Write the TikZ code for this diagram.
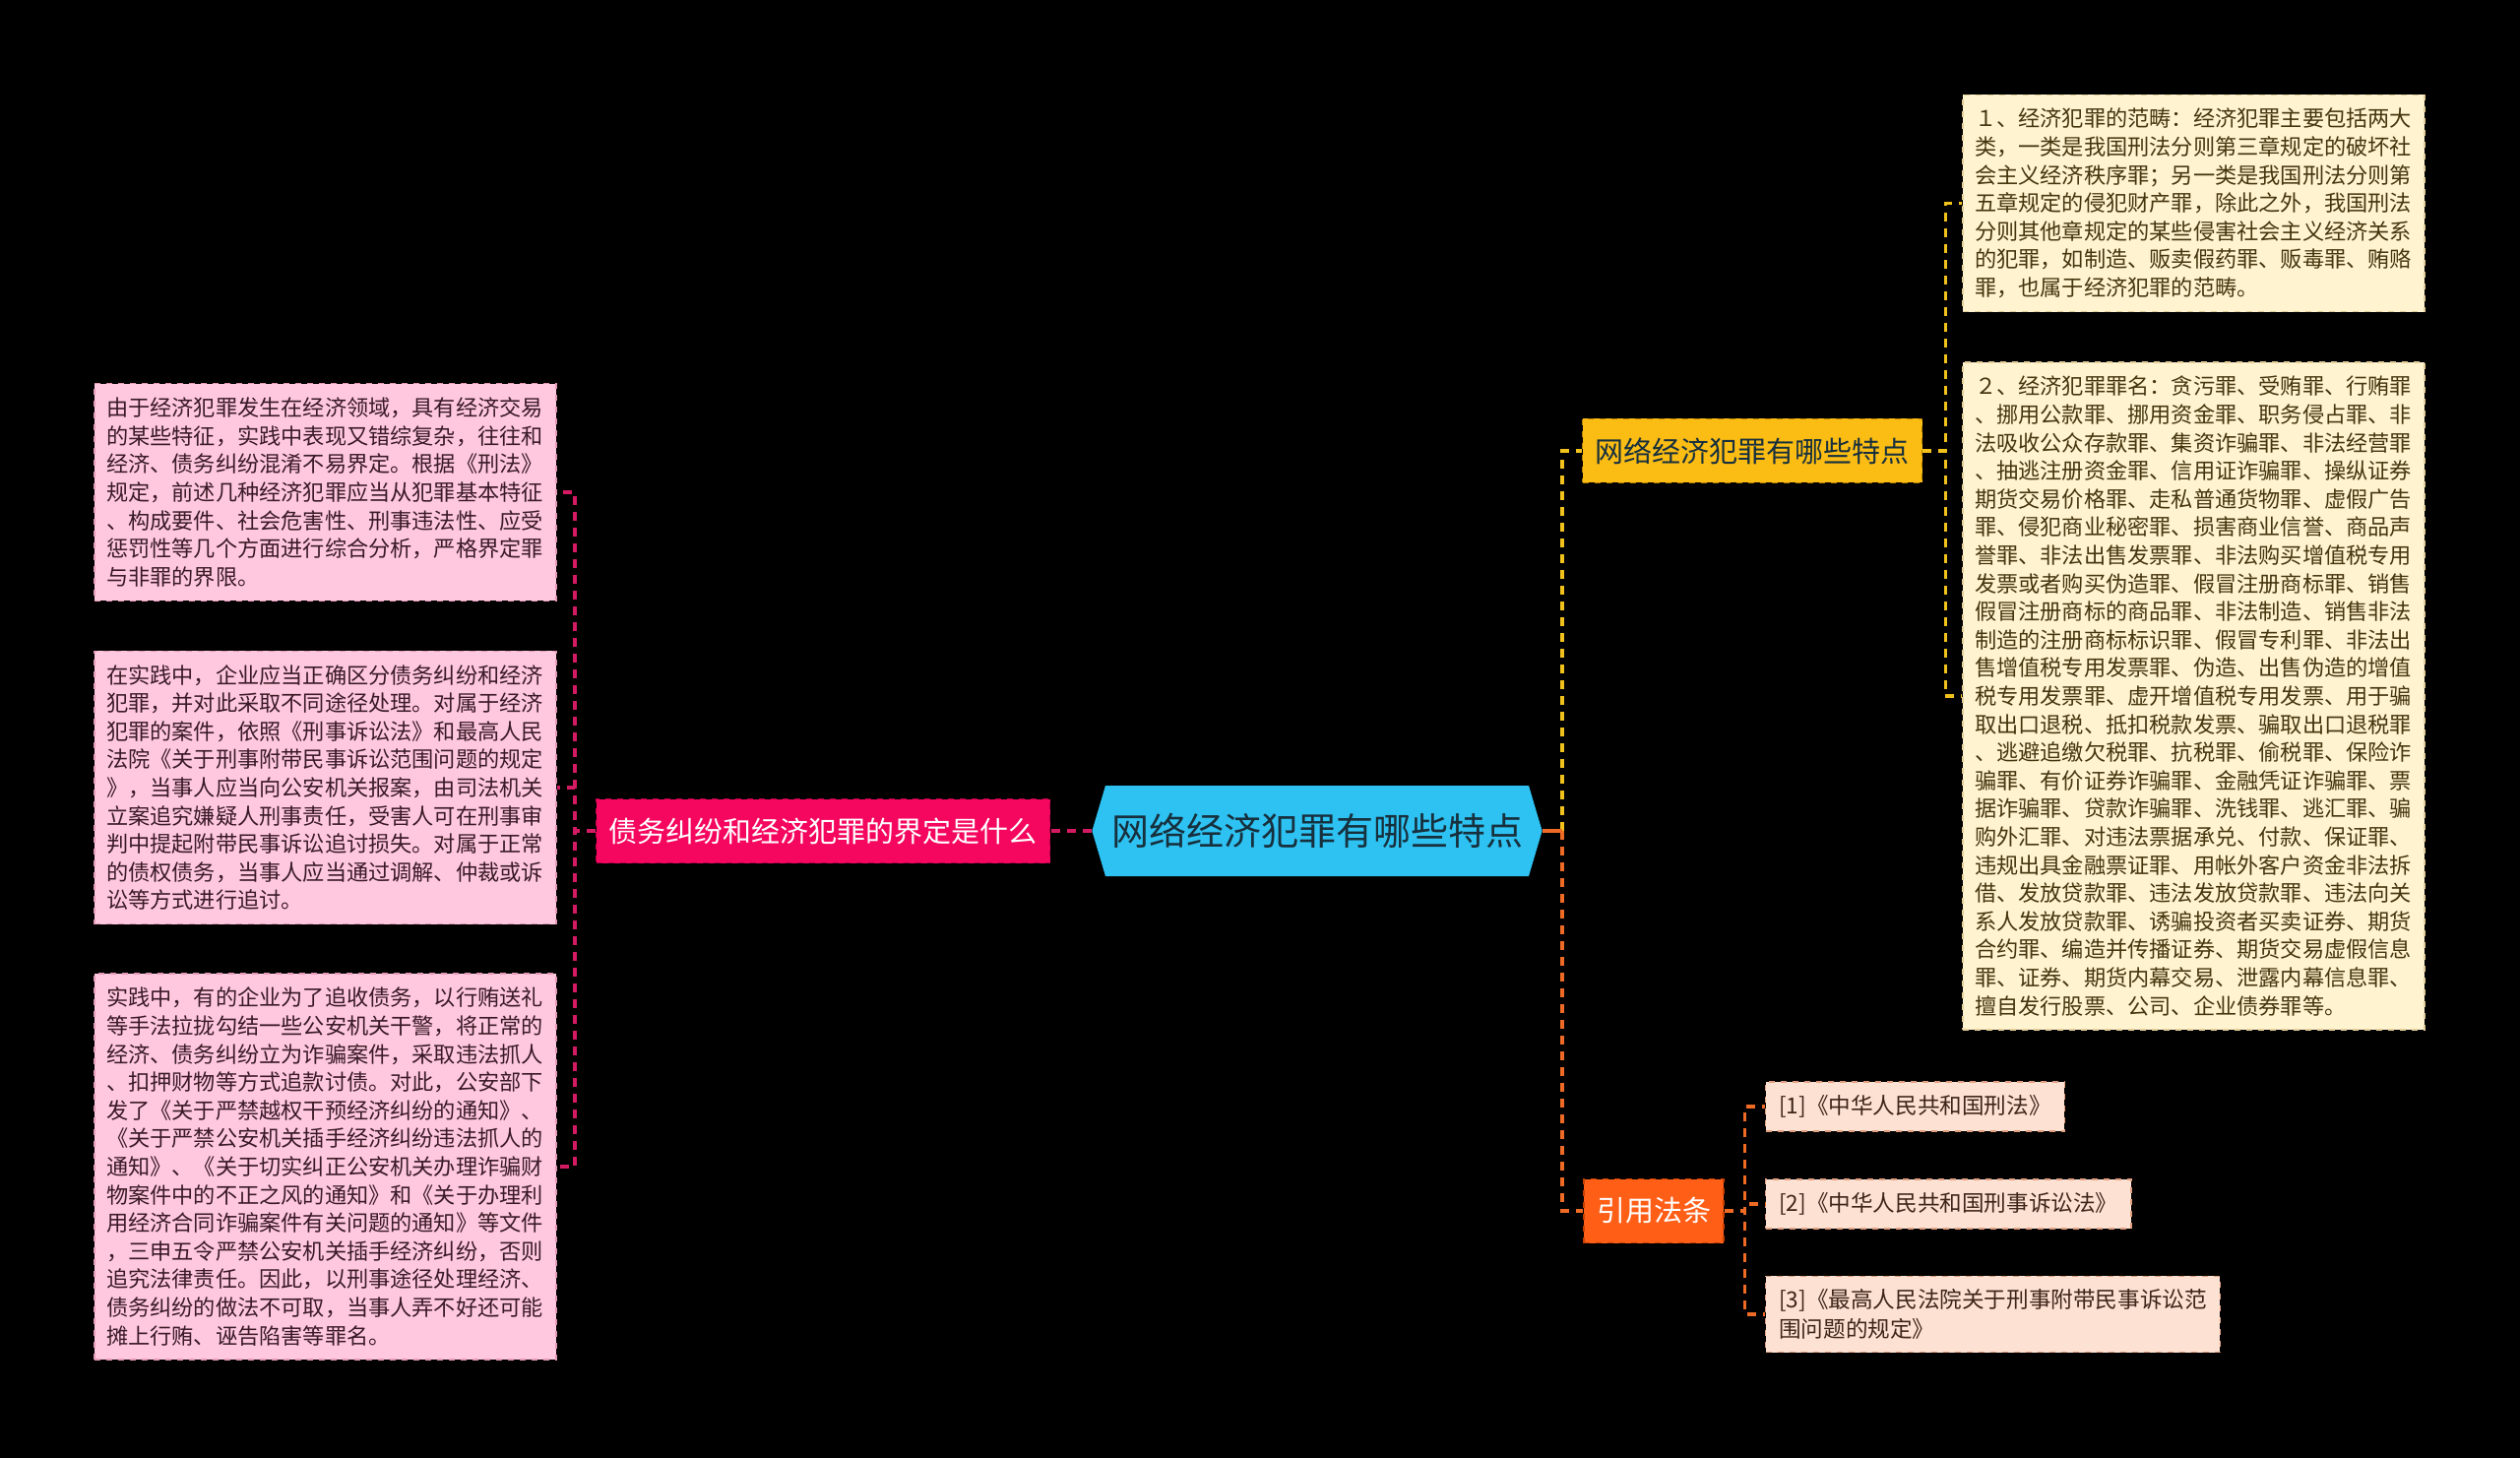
\documentclass[tikz,border=0pt]{standalone}
\usepackage{fontspec}
\setmainfont{Noto Sans CJK SC}
\usetikzlibrary{shapes.symbols}
\definecolor{rootfill}{HTML}{2EC2F2}
\definecolor{roottext}{HTML}{17303D}
\definecolor{debtfill}{HTML}{F5075F}
\definecolor{debtedge}{HTML}{B8004A}
\definecolor{debtline}{HTML}{D41A62}
\definecolor{debtleaf}{HTML}{FFC8DE}
\definecolor{debttext}{HTML}{3A1A26}
\definecolor{featfill}{HTML}{FBBC14}
\definecolor{featedge}{HTML}{B98400}
\definecolor{featline}{HTML}{F2C21C}
\definecolor{featleaf}{HTML}{FFF3D0}
\definecolor{feattext}{HTML}{45360E}
\definecolor{citefill}{HTML}{FF5E17}
\definecolor{citeedge}{HTML}{C23F00}
\definecolor{citeline}{HTML}{EE6A25}
\definecolor{citeleaf}{HTML}{FDE1D2}
\definecolor{citetext}{HTML}{3E2519}

\begin{document}
\begin{tikzpicture}[
  x=0.5pt, y=-0.5pt,
  root/.style={shape=signal, signal to=west and east, signal pointer angle=147,
               fill=rootfill, text=roottext, inner xsep=3pt, minimum height=46pt,
               font=\fontsize{19}{22}\selectfont},
  branch/.style 2 args={rectangle, draw=#1, dashed, line width=0.6pt, fill=#2,
               minimum height=32.5pt, inner xsep=6.5pt, font=\fontsize{14.5}{17}\selectfont},
  leaf/.style 2 args={rectangle, draw=#1, dashed, line width=0.6pt, fill=#2,
               text width=222.5pt, inner xsep=6pt, inner ysep=7pt, align=left,
               font=\fontsize{11.1}{14.3}\selectfont},
  ref/.style={rectangle, draw=citeedge!50, dashed, line width=0.6pt, fill=citeleaf,
              text=citetext, anchor=west, inner xsep=6.8pt, inner ysep=6.8pt,
              minimum height=25pt, align=left, font=\fontsize{11.3}{14.7}\selectfont},
  conn/.style={draw=#1, line width=1.6pt, dash pattern=on 4.5pt off 3.5pt},
]
\fill[black] (0,0) rectangle (2560,1481);
% ---- centre and the three branches
\node[root] (root) at (1338, 844) {网络经济犯罪有哪些特点};
\node[branch={debtedge}{debtfill}, text=white] (debt_q) at (836, 844) {债务纠纷和经济犯罪的界定是什么};
\node[branch={featedge}{featfill}, text=roottext] (feat_q) at (1780, 458) {网络经济犯罪有哪些特点};
\node[branch={citeedge}{citefill}, text=white] (cite_q) at (1680, 1230) {引用法条};
% ---- left: debt vs. crime notes (pink)
\node[leaf={debtedge!40}{debtleaf}, text=debttext] (debt_a1) at (330.5, 500) {%
由于经济犯罪发生在经济领域，具有经济交易\\的某些特征，实践中表现又错综复杂，往往和\\经济、债务纠纷混淆不易界定。根据《刑法》\\规定，前述几种经济犯罪应当从犯罪基本特征\\、构成要件、社会危害性、刑事违法性、应受\\惩罚性等几个方面进行综合分析，严格界定罪\\与非罪的界限。};
\node[leaf={debtedge!40}{debtleaf}, text=debttext] (debt_a2) at (330.5, 800) {%
在实践中，企业应当正确区分债务纠纷和经济\\犯罪，并对此采取不同途径处理。对属于经济\\犯罪的案件，依照《刑事诉讼法》和最高人民\\法院《关于刑事附带民事诉讼范围问题的规定\\》，当事人应当向公安机关报案，由司法机关\\立案追究嫌疑人刑事责任，受害人可在刑事审\\判中提起附带民事诉讼追讨损失。对属于正常\\的债权债务，当事人应当通过调解、仲裁或诉\\讼等方式进行追讨。};
\node[leaf={debtedge!40}{debtleaf}, text=debttext] (debt_a3) at (330.5, 1185) {%
实践中，有的企业为了追收债务，以行贿送礼\\等手法拉拢勾结一些公安机关干警，将正常的\\经济、债务纠纷立为诈骗案件，采取违法抓人\\、扣押财物等方式追款讨债。对此，公安部下\\发了《关于严禁越权干预经济纠纷的通知》、\\《关于严禁公安机关插手经济纠纷违法抓人的\\通知》、《关于切实纠正公安机关办理诈骗财\\物案件中的不正之风的通知》和《关于办理利\\用经济合同诈骗案件有关问题的通知》等文件\\，三申五令严禁公安机关插手经济纠纷，否则\\追究法律责任。因此，以刑事途径处理经济、\\债务纠纷的做法不可取，当事人弄不好还可能\\摊上行贿、诬告陷害等罪名。};
% ---- right top: features (yellow)
\node[leaf={featedge!40}{featleaf}, text=feattext] (feat_a1) at (2228.5, 206.5) {%
１、经济犯罪的范畴：经济犯罪主要包括两大\\类，一类是我国刑法分则第三章规定的破坏社\\会主义经济秩序罪；另一类是我国刑法分则第\\五章规定的侵犯财产罪，除此之外，我国刑法\\分则其他章规定的某些侵害社会主义经济关系\\的犯罪，如制造、贩卖假药罪、贩毒罪、贿赂\\罪，也属于经济犯罪的范畴。};
\node[leaf={featedge!40}{featleaf}, text=feattext] (feat_a2) at (2228.5, 707) {%
２、经济犯罪罪名：贪污罪、受贿罪、行贿罪\\、挪用公款罪、挪用资金罪、职务侵占罪、非\\法吸收公众存款罪、集资诈骗罪、非法经营罪\\、抽逃注册资金罪、信用证诈骗罪、操纵证券\\期货交易价格罪、走私普通货物罪、虚假广告\\罪、侵犯商业秘密罪、损害商业信誉、商品声\\誉罪、非法出售发票罪、非法购买增值税专用\\发票或者购买伪造罪、假冒注册商标罪、销售\\假冒注册商标的商品罪、非法制造、销售非法\\制造的注册商标标识罪、假冒专利罪、非法出\\售增值税专用发票罪、伪造、出售伪造的增值\\税专用发票罪、虚开增值税专用发票、用于骗\\取出口退税、抵扣税款发票、骗取出口退税罪\\、逃避追缴欠税罪、抗税罪、偷税罪、保险诈\\骗罪、有价证券诈骗罪、金融凭证诈骗罪、票\\据诈骗罪、贷款诈骗罪、洗钱罪、逃汇罪、骗\\购外汇罪、对违法票据承兑、付款、保证罪、\\违规出具金融票证罪、用帐外客户资金非法拆\\借、发放贷款罪、违法发放贷款罪、违法向关\\系人发放贷款罪、诱骗投资者买卖证券、期货\\合约罪、编造并传播证券、期货交易虚假信息\\罪、证券、期货内幕交易、泄露内幕信息罪、\\擅自发行股票、公司、企业债券罪等。};
% ---- right bottom: cited laws (orange)
\node[ref] (cite_1) at (1793, 1124) {[1]《中华人民共和国刑法》};
\node[ref] (cite_2) at (1793, 1223) {[2]《中华人民共和国刑事诉讼法》};
\node[ref] (cite_3) at (1793, 1335) {[3]《最高人民法院关于刑事附带民事诉讼范\\围问题的规定》};
% ---- connectors
\draw[conn=debtline] (root.west) -- (debt_q.east);
\foreach \n in {debt_a1, debt_a2, debt_a3}
  \draw[conn=debtline] (debt_q.west) -- ++(-21,0) |- (\n.east);
\draw[conn=featline] ([xshift=10pt]root.east) |- (feat_q.west);
\draw[conn=citeline] ([xshift=10pt]root.east) |- (cite_q.west);
\draw[draw=citeline, line width=1.6pt] (root.east) -- ++(20,0);
\foreach \n in {feat_a1, feat_a2}
  \draw[conn=featline] (feat_q.east) -- ++(23,0) |- (\n.west);
\foreach \n in {cite_1, cite_2, cite_3}
  \draw[conn=citeline] (cite_q.east) -- ++(21,0) |- (\n.west);
\end{tikzpicture}
\end{document}
